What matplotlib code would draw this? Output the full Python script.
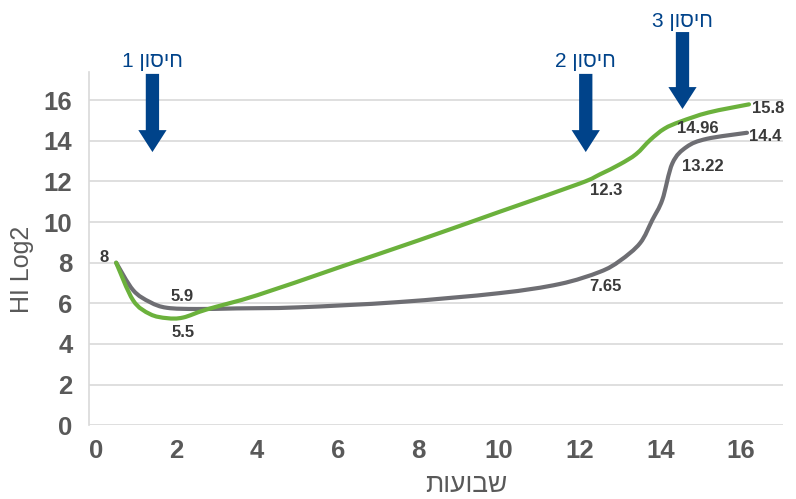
import numpy as np
import matplotlib
matplotlib.use("Agg")
import matplotlib.pyplot as plt
from matplotlib.path import Path
from matplotlib.patches import PathPatch, FancyArrow

plt.rcParams['font.family'] = ['Liberation Sans', 'DejaVu Sans']

# ---------------- data ----------------
green_x = [0.5, 0.92, 1.34, 1.76, 2.16, 2.75, 4, 6, 8, 10, 12, 12.5, 13.0, 13.4, 13.75, 14.1, 14.5, 15.2, 16.2]
green_y = [8.0, 6.15, 5.47, 5.27, 5.3, 5.7, 6.4, 7.75, 9.1, 10.5, 11.9, 12.35, 12.85, 13.35, 14.05, 14.6, 14.95, 15.4, 15.8]

gray_x = [0.5, 0.92, 1.34, 1.76, 2.5, 3.5, 5, 7.5, 10, 11.5, 12.5, 13.0, 13.5, 13.8, 14.05, 14.3, 14.65, 15.15, 16.15]
gray_y = [8.0, 6.65, 6.06, 5.78, 5.72, 5.75, 5.8, 6.06, 6.5, 6.95, 7.55, 8.1, 8.97, 10.1, 11.1, 12.9, 13.7, 14.1, 14.4]

# data labels: (x, y, text)
label_x = [0.5, 2.0, 2.0, 12.3, 12.5, 14.4, 14.3, 16.2, 16.15]
label_y = [8.0, 5.75, 5.3, 12.1, 7.55, 14.9, 12.9, 15.8, 14.4]
label_text = ["8", "5.9", "5.5", "12.3", "7.65", "14.96", "13.22", "15.8", "14.4"]

vaccine_weeks = [1.4, 12.15, 14.55]
vaccine_names = ["חיסון 1", "חיסון 2", "חיסון 3"]

x_ticks = [0, 2, 4, 6, 8, 10, 12, 14, 16]
y_ticks = [0, 2, 4, 6, 8, 10, 12, 14, 16]

x_title = "שבועות"
y_title = "HI Log2"

# ---------------- style ----------------
GREEN = "#6BB13C"
GRAY = "#6E6E73"
BLUE = "#00438A"
TICK = "#595959"
GRID = "#D9D9D9"


def rtl(s):
    """Visual order for Hebrew text (matplotlib has no bidi)."""
    out = []
    for tok in s.split(" "):
        if any('\u0590' <= c <= '\u05FF' for c in tok):
            out.append(tok[::-1])
        else:
            out.append(tok)
    return " ".join(out[::-1])


def smooth_path(xs, ys, t=0.5):
    xs = np.asarray(xs, float)
    ys = np.asarray(ys, float)
    pts = np.column_stack([xs, ys])
    n = len(pts)
    verts = [pts[0]]
    codes = [Path.MOVETO]
    for i in range(n - 1):
        p0 = pts[i - 1] if i > 0 else pts[i]
        p1 = pts[i]
        p2 = pts[i + 1]
        p3 = pts[i + 2] if i + 2 < n else pts[i + 1]
        c1 = p1 + (p2 - p0) * t / 3.0
        c2 = p2 - (p3 - p1) * t / 3.0
        verts += [c1, c2, p2]
        codes += [Path.CURVE4] * 3
    return Path(verts, codes)


fig = plt.figure(figsize=(7.96, 4.99), dpi=100)
ax = fig.add_axes([0.112, 0.148, 0.872, 0.708])
ax.set_xlim(-0.17, 17.05)
ax.set_ylim(0, 17.4)

for spine in ["top", "right", "bottom"]:
    ax.spines[spine].set_visible(False)
ax.spines["left"].set_color(GRID)
ax.spines["left"].set_linewidth(1.2)

ax.set_yticks(y_ticks)
ax.set_xticks(x_ticks)
ax.grid(axis="y", color=GRID, linewidth=1.2)
ax.set_axisbelow(True)
ax.tick_params(axis="both", length=0, labelsize=18.5, labelcolor=TICK)
ax.tick_params(axis="x", pad=10)
ax.tick_params(axis="y", pad=12)
for lab in ax.get_xticklabels() + ax.get_yticklabels():
    lab.set_fontweight("bold")

ax.add_patch(PathPatch(smooth_path(gray_x, gray_y), facecolor="none", edgecolor=GRAY,
                       linewidth=3, capstyle="round", joinstyle="round"))
ax.add_patch(PathPatch(smooth_path(green_x, green_y), facecolor="none", edgecolor=GREEN,
                       linewidth=3, capstyle="round", joinstyle="round"))

offsets = [(-12, 5), (5, 12), (6, -15), (14, -11), (6, -15), (21, -6), (30, -3), (19, -4), (18, -4)]
for x, y, t, off in zip(label_x, label_y, label_text, offsets):
    ax.annotate(t, (x, y), xytext=off, textcoords="offset pixels", ha="center", va="center",
                fontsize=12, fontweight="bold", color="#3A3A3A")

# vaccination arrows
arrow_top = [17.3, 17.3, 19.36]
arrow_tip = [13.45, 13.45, 15.57]
text_y = [17.9, 17.9, 19.9]
for wx, top, tip, ty, name in zip(vaccine_weeks, arrow_top, arrow_tip, text_y, vaccine_names):
    ar = FancyArrow(wx, top, 0, tip - top, width=0.33, head_width=0.70, head_length=1.08,
                    length_includes_head=True, color=BLUE, clip_on=False, linewidth=0)
    ax.add_patch(ar)
    ax.text(wx, ty, rtl(name), ha="center", va="center", fontsize=15, color=BLUE, clip_on=False)

ax.set_xlabel(rtl(x_title), fontsize=19, color=TICK)
ax.xaxis.set_label_coords(0.543, -0.135)
ax.set_ylabel(y_title, fontsize=18, color=TICK)
ax.yaxis.set_label_coords(-0.08, 0.44)

fig.savefig("out.png", dpi=100)
